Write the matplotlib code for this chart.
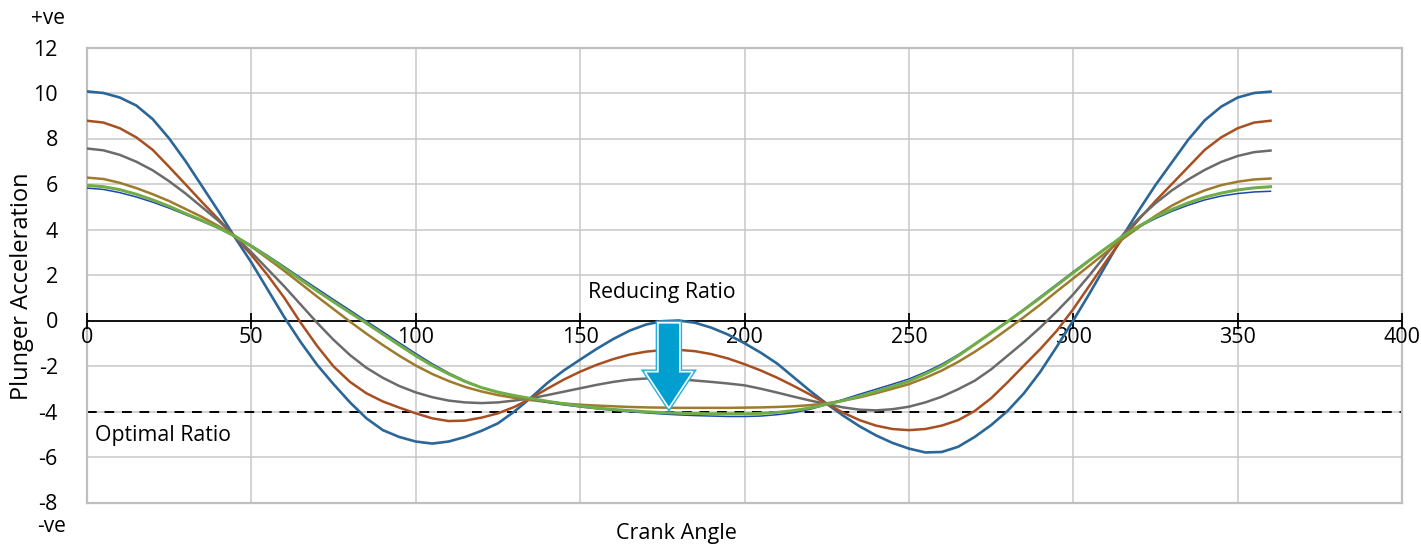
import numpy as np
import matplotlib
matplotlib.use("Agg")
import matplotlib.pyplot as plt
from matplotlib.patches import FancyArrow

plt.rcParams["font.family"] = ["Open Sans", "DejaVu Sans"]
plt.rcParams["axes.unicode_minus"] = False

# crank angle (deg), every 5 deg
angle = list(range(0, 361, 5))

# plunger acceleration
blue = [10.07, 10.0, 9.8, 9.45, 8.85, 8.0, 7.0, 5.9, 4.8, 3.65, 2.55, 1.35,
        0.15, -0.95, -1.95, -2.8, -3.6, -4.3, -4.82, -5.12, -5.32, -5.41, -5.32, -5.12,
        -4.85, -4.52, -4.0, -3.4, -2.75, -2.2, -1.72, -1.25, -0.82, -0.45, -0.18, -0.03,
        0.0, -0.1, -0.32, -0.62, -1.0, -1.42, -1.9, -2.5, -3.1, -3.66, -4.18, -4.65,
        -5.05, -5.38, -5.63, -5.8, -5.78, -5.55, -5.12, -4.6, -3.98, -3.2, -2.25, -1.15,
        0.0, 1.2, 2.45, 3.7, 4.85, 5.95, 6.95, 7.95, 8.8, 9.4, 9.8, 10.0,
        10.06]
orange = [8.78, 8.7, 8.45, 8.05, 7.5, 6.75, 5.98, 5.2, 4.45, 3.68, 2.88, 1.98,
          1.0, -0.1, -1.12, -2.02, -2.7, -3.2, -3.56, -3.83, -4.08, -4.3, -4.42, -4.4,
          -4.27, -4.08, -3.8, -3.42, -3.0, -2.6, -2.25, -1.95, -1.7, -1.5, -1.37, -1.3,
          -1.29, -1.35, -1.48, -1.67, -1.92, -2.2, -2.52, -2.88, -3.26, -3.66, -4.05, -4.38,
          -4.62, -4.77, -4.82, -4.77, -4.62, -4.38, -3.98, -3.42, -2.72, -1.98, -1.25, -0.45,
          0.5, 1.55, 2.6, 3.6, 4.45, 5.25, 6.0, 6.75, 7.5, 8.05, 8.45, 8.7,
          8.78]
gray = [7.56, 7.48, 7.28, 6.98, 6.6, 6.12, 5.58, 4.98, 4.38, 3.7, 3.0, 2.25,
        1.5, 0.7, -0.1, -0.85, -1.52, -2.08, -2.52, -2.88, -3.16, -3.37, -3.52, -3.6,
        -3.63, -3.6, -3.52, -3.42, -3.28, -3.13, -2.98, -2.83, -2.7, -2.6, -2.55, -2.55,
        -2.58, -2.64, -2.7, -2.77, -2.85, -3.0, -3.17, -3.35, -3.52, -3.67, -3.82, -3.92,
        -3.95, -3.9, -3.79, -3.6, -3.35, -3.02, -2.65, -2.15, -1.55, -0.95, -0.3, 0.4,
        1.15, 2.0, 2.9, 3.75, 4.5, 5.15, 5.72, 6.2, 6.62, 6.97, 7.23, 7.4,
        7.47]
gold = [6.28, 6.22, 6.05, 5.82, 5.55, 5.25, 4.9, 4.55, 4.15, 3.72, 3.25, 2.72,
        2.18, 1.62, 1.05, 0.5, -0.05, -0.58, -1.08, -1.55, -1.98, -2.35, -2.66, -2.92,
        -3.12, -3.28, -3.4, -3.5, -3.58, -3.65, -3.7, -3.74, -3.77, -3.8, -3.82, -3.83,
        -3.84, -3.84, -3.84, -3.84, -3.83, -3.82, -3.8, -3.77, -3.72, -3.64, -3.52, -3.38,
        -3.2, -3.0, -2.8, -2.52, -2.2, -1.82, -1.38, -0.9, -0.38, 0.15, 0.7, 1.28,
        1.85, 2.42, 3.0, 3.58, 4.1, 4.6, 5.05, 5.42, 5.72, 5.95, 6.1, 6.2,
        6.24]
navy = [5.82, 5.76, 5.62, 5.43, 5.2, 4.94, 4.65, 4.36, 4.05, 3.7, 3.3, 2.85,
        2.37, 1.88, 1.4, 0.92, 0.45, -0.03, -0.5, -0.98, -1.45, -1.9, -2.3, -2.65,
        -2.95, -3.15, -3.32, -3.46, -3.6, -3.71, -3.8, -3.88, -3.95, -4.01, -4.06, -4.11,
        -4.15, -4.18, -4.2, -4.22, -4.22, -4.2, -4.14, -4.05, -3.9, -3.7, -3.47, -3.24,
        -3.02, -2.8, -2.57, -2.27, -1.92, -1.5, -1.03, -0.55, -0.05, 0.5, 1.05, 1.6,
        2.15, 2.68, 3.2, 3.7, 4.12, 4.48, 4.8, 5.07, 5.3, 5.47, 5.58, 5.65,
        5.68]
green = [5.94, 5.88, 5.75, 5.55, 5.3, 5.02, 4.7, 4.4, 4.08, 3.7, 3.27, 2.8,
         2.3, 1.8, 1.3, 0.82, 0.35, -0.12, -0.6, -1.08, -1.55, -1.98, -2.35, -2.68,
         -2.95, -3.15, -3.3, -3.43, -3.55, -3.66, -3.76, -3.84, -3.91, -3.96, -4.01, -4.05,
         -4.07, -4.09, -4.1, -4.1, -4.1, -4.08, -4.04, -3.96, -3.84, -3.68, -3.52, -3.33,
         -3.12, -2.9, -2.67, -2.35, -2.0, -1.55, -1.05, -0.55, -0.05, 0.47, 1.0, 1.55,
         2.1, 2.65, 3.18, 3.7, 4.15, 4.55, 4.88, 5.17, 5.42, 5.6, 5.74, 5.83,
         5.88]

x_ticks = [0, 50, 100, 150, 200, 250, 300, 350, 400]
y_ticks = [-8, -6, -4, -2, 0, 2, 4, 6, 8, 10, 12]
optimal = -4

fig = plt.figure(figsize=(14.21, 5.44), dpi=100)
ax = fig.add_axes([87 / 1421, 1 - 502.5 / 544, 1315 / 1421, 455 / 544])
ax.set_xlim(0, 400)
ax.set_ylim(-8, 12)

ax.set_xticks(x_ticks)
ax.set_yticks(y_ticks)
ax.set_xticklabels([])
ax.set_yticklabels([str(v) for v in y_ticks], fontsize=15.5)
ax.tick_params(axis="both", length=0)
ax.tick_params(axis="y", pad=21)
ax.grid(True, color="#c8c8c8", lw=1.1)
ax.set_axisbelow(True)
for s in ax.spines.values():
    s.set_color("#bfbfbf")
    s.set_linewidth(1.6)

# x axis drawn through zero, with its own ticks and labels
ax.axhline(0, color="black", lw=1.3, zorder=3)
ax.plot(x_ticks, [0] * len(x_ticks), ls="none", marker="|", ms=11,
        mew=1.3, color="black", zorder=3, clip_on=False)
for xv in x_ticks:
    ax.text(xv, -0.3, str(xv), ha="center", va="top", fontsize=15.5)

ax.axhline(optimal, color="black", lw=1.4, ls=(0, (5, 4)), zorder=2)

series = [
    (blue, "#2b6699", 1.9),
    (orange, "#a84f22", 1.8),
    (gray, "#6b6b6b", 1.8),
    (gold, "#9f7a2c", 1.8),
    (navy, "#1c48ae", 1.1),
    (green, "#70ad47", 2.2),
]
for ys, c, lw in series:
    ax.plot(angle, ys, color=c, lw=lw, zorder=4)

# arrow
for ec, elw in [("#29aee0", 3.2), ("white", 1.2)]:
    ax.add_patch(FancyArrow(177, -0.1, 0, -3.75, width=6.7, head_width=14.6,
                            head_length=1.6, length_includes_head=True,
                            facecolor="#009fd0", edgecolor=ec, lw=elw, zorder=6))

ax.text(175, 1.25, "Reducing Ratio", ha="center", va="center", fontsize=15.3)
ax.text(2.4, -5.05, "Optimal Ratio", ha="left", va="center", fontsize=15.3)

fig.text(65 / 1421, 1 - 18 / 544, "+ve", ha="right", va="center", fontsize=15)
fig.text(66 / 1421, 1 - 527 / 544, "-ve", ha="right", va="center", fontsize=15)
fig.text(22 / 1421, 1 - 286 / 544, "Plunger Acceleration", rotation=90,
         ha="center", va="center", fontsize=17)
fig.text(676 / 1421, 1 - 533 / 544, "Crank Angle", ha="center", va="center",
         fontsize=15.5)

fig.savefig("out.png", dpi=100)
